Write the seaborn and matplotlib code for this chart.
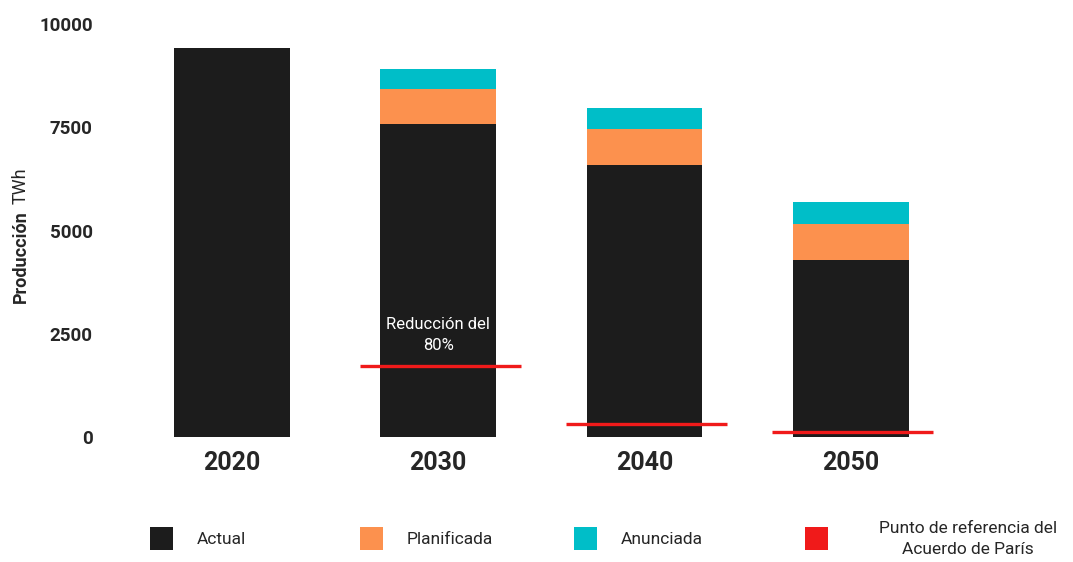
import matplotlib
matplotlib.use("Agg")
import matplotlib.pyplot as plt
from matplotlib.patches import Rectangle
import seaborn as sns
import numpy as np
import pandas as pd

# datos (TWh)
years = ["2020", "2030", "2040", "2050"]
actual = [9420, 7580, 6580, 4290]
planificada = [0, 850, 870, 880]
anunciada = [0, 480, 510, 520]
paris_ref = [np.nan, 1720, 310, 110]

yticks = [0, 2500, 5000, 7500, 10000]

c_actual = "#1c1c1c"
c_plan = "#fc914e"
c_anun = "#00bec8"
c_red = "#f01a1a"

sns.set_theme(style="white")
plt.rcParams["font.family"] = ["Roboto", "DejaVu Sans"]

df = pd.DataFrame({"year": years, "actual": actual,
                   "plan": planificada, "anun": anunciada})
df["tot_plan"] = df["actual"] + df["plan"]
df["tot_anun"] = df["tot_plan"] + df["anun"]

fig = plt.figure(figsize=(10.73, 5.62), dpi=100)
ax = fig.add_axes([0.120, 0.2224, 0.769, 0.7346])

# barras apiladas: se dibuja el total y se tapa con las capas inferiores
for col, c in [("tot_anun", c_anun), ("tot_plan", c_plan), ("actual", c_actual)]:
    sns.barplot(data=df, x="year", y=col, color=c, width=0.56,
                saturation=1, linewidth=0, ax=ax)

# punto de referencia del Acuerdo de Paris
for i, v in enumerate(paris_ref):
    if not np.isnan(v):
        ax.hlines(v, i - 0.38, i + 0.40, color=c_red, lw=2.4, zorder=5)

ax.text(1, 2480, "Reducción del\n80%", color="white", ha="center",
        va="center", fontsize=12, linespacing=1.5)

ax.set_xlim(-0.5, 3.5)
ax.set_ylim(0, 10000)
ax.set_yticks(yticks)
ax.set_yticklabels([str(t) for t in yticks], fontsize=13.5, fontweight="bold")
ax.set_xticks(range(len(years)))
ax.set_xticklabels(years, fontsize=18, fontweight="bold")
ax.tick_params(axis="y", length=0, pad=26)
ax.tick_params(axis="x", length=0, pad=10)
ax.set_xlabel("")
ax.set_ylabel("")
sns.despine(ax=ax, left=True, bottom=True)

# etiqueta del eje y: "Producción" en negrita seguido de "TWh"
t1 = fig.text(0.019, (562 - 303) / 562, "Producción", rotation=90,
              ha="center", va="bottom", fontsize=13, fontweight="bold")
fig.canvas.draw()
bb = t1.get_window_extent()
fig.text(0.019, (bb.y1 + 6) / 562, "TWh", rotation=90, ha="center",
         va="bottom", fontsize=13)

# leyenda manual
leg = [(150, c_actual, "Actual"), (360, c_plan, "Planificada"),
       (574, c_anun, "Anunciada"), (805, c_red, None)]
for px, col, lab in leg:
    fig.add_artist(Rectangle((px / 1073, (562 - 550) / 562), 23 / 1073,
                             23 / 562, transform=fig.transFigure,
                             color=col, lw=0))
    if lab:
        fig.text((px + 47) / 1073, (562 - 539) / 562, lab, ha="left",
                 va="center", fontsize=12.5)
fig.text(968 / 1073, (562 - 539) / 562,
         "Punto de referencia del\nAcuerdo de París", ha="center",
         va="center", fontsize=12.5, linespacing=1.5)

fig.savefig("out.png", dpi=100)
plt.close(fig)
